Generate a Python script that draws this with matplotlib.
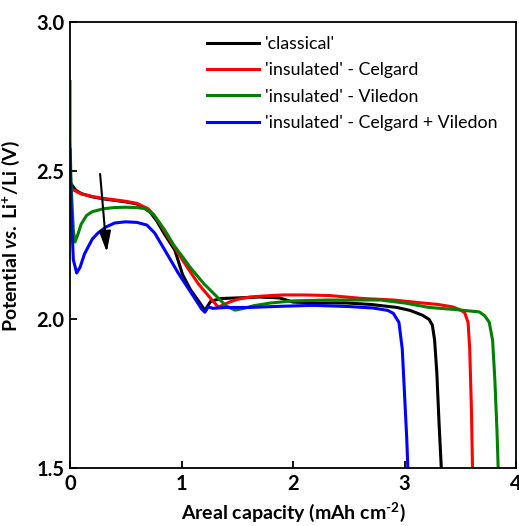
import numpy as np
import matplotlib
matplotlib.use('Agg')
import matplotlib.pyplot as plt

plt.rcParams['font.family'] = ['Lato', 'DejaVu Sans']
plt.rcParams['mathtext.fontset'] = 'custom'
plt.rcParams['mathtext.rm'] = 'Lato:bold'
plt.rcParams['mathtext.bf'] = 'Lato:bold'
plt.rcParams['mathtext.it'] = 'Lato:bold:italic'

# discharge curves
cap_classical = [0, 0.02, 0.05, 0.1, 0.2, 0.3, 0.4, 0.5, 0.6, 0.65, 0.72, 0.78, 0.85, 0.94, 1.01, 1.08, 1.165, 1.21, 1.26, 1.35, 1.5, 1.7, 1.88, 2.0, 2.2, 2.48, 2.7, 2.93, 3.05, 3.16, 3.22, 3.25, 3.27, 3.29, 3.31, 3.33]
pot_classical = [2.462, 2.45, 2.435, 2.423, 2.412, 2.405, 2.40, 2.395, 2.388, 2.378, 2.36, 2.33, 2.285, 2.233, 2.15, 2.10, 2.055, 2.03, 2.06, 2.07, 2.072, 2.075, 2.072, 2.058, 2.055, 2.055, 2.05, 2.04, 2.03, 2.014, 2.0, 1.98, 1.93, 1.82, 1.65, 1.5]

cap_celgard = [0, 0.02, 0.1, 0.2, 0.3, 0.5, 0.6, 0.7, 0.75, 0.8, 0.9, 1.0, 1.05, 1.15, 1.25, 1.33, 1.43, 1.5, 1.61, 1.8, 1.91, 2.1, 2.33, 2.63, 2.9, 3.16, 3.3, 3.43, 3.5, 3.54, 3.57, 3.585, 3.6, 3.61]
pot_celgard = [2.45, 2.437, 2.422, 2.413, 2.407, 2.397, 2.39, 2.372, 2.352, 2.325, 2.265, 2.205, 2.176, 2.12, 2.075, 2.041, 2.058, 2.067, 2.075, 2.08, 2.082, 2.082, 2.08, 2.07, 2.065, 2.055, 2.05, 2.042, 2.032, 2.022, 1.99, 1.9, 1.7, 1.5]

cap_viledon = [0, 0.0, 0.01, 0.03, 0.045, 0.07, 0.1, 0.15, 0.2, 0.3, 0.4, 0.5, 0.6, 0.68, 0.75, 0.85, 0.93, 1.03, 1.075, 1.2, 1.32, 1.4, 1.48, 1.55, 1.65, 1.8, 2.0, 2.3, 2.78, 3.0, 3.22, 3.45, 3.67, 3.72, 3.76, 3.79, 3.81, 3.83, 3.84]
pot_viledon = [2.80, 2.60, 2.45, 2.30, 2.26, 2.285, 2.32, 2.35, 2.362, 2.372, 2.376, 2.377, 2.376, 2.372, 2.352, 2.30, 2.25, 2.20, 2.176, 2.12, 2.075, 2.045, 2.031, 2.036, 2.046, 2.055, 2.062, 2.065, 2.065, 2.055, 2.04, 2.033, 2.025, 2.012, 1.99, 1.93, 1.8, 1.62, 1.5]

cap_both = [0, 0.01, 0.03, 0.06, 0.09, 0.13, 0.2, 0.25, 0.32, 0.4, 0.5, 0.6, 0.69, 0.76, 0.85, 0.97, 1.05, 1.12, 1.18, 1.21, 1.24, 1.28, 1.4, 1.61, 1.9, 2.18, 2.5, 2.72, 2.85, 2.9, 2.95, 2.98, 3.0, 3.02, 3.03]
pot_both = [2.57, 2.38, 2.2, 2.156, 2.175, 2.22, 2.27, 2.29, 2.31, 2.324, 2.328, 2.326, 2.317, 2.29, 2.233, 2.156, 2.11, 2.07, 2.035, 2.024, 2.042, 2.037, 2.04, 2.04, 2.044, 2.047, 2.043, 2.038, 2.03, 2.02, 1.99, 1.9, 1.75, 1.6, 1.5]

labels = ["'classical'", "'insulated' - Celgard", "'insulated' - Viledon",
          "'insulated' - Celgard + Viledon"]
colors = ['black', 'red', 'green', 'blue']

fig = plt.figure(figsize=(5.19, 5.26), dpi=100)
ax = fig.add_axes([70 / 519, 58 / 526, 446 / 519, 446 / 526])

series = [(cap_classical, pot_classical), (cap_celgard, pot_celgard),
          (cap_viledon, pot_viledon), (cap_both, pot_both)]
for (x, y), c, lab in zip(series, colors, labels):
    ax.plot(x, y, color=c, lw=2.2, label=lab, solid_joinstyle='round')

# arrow: trend with insulation
ax.annotate('', xy=(0.33, 2.226), xytext=(0.27, 2.489),
            arrowprops=dict(arrowstyle='-|>,head_length=0.7,head_width=0.2',
                            color='black', lw=1.5, mutation_scale=18,
                            shrinkA=0, shrinkB=0))

ax.set_xlim(0, 4)
ax.set_ylim(1.5, 3.0)
ax.set_xticks([0, 1, 2, 3, 4])
ax.set_yticks([1.5, 2.0, 2.5, 3.0])
ax.set_yticklabels(['1.5', '2.0', '2.5', '3.0'])
ax.tick_params(direction='in', length=5, width=1.3, labelsize=14.5, pad=4,
               top=False, right=False)
for lab in ax.get_xticklabels() + ax.get_yticklabels():
    lab.set_fontweight('bold')
for s in ax.spines.values():
    s.set_linewidth(1.3)

ax.set_xlabel(r'Areal capacity (mAh cm$^{\text{-2}}$)', fontsize=14,
              fontweight='bold', labelpad=5)
ax.set_ylabel(r'Potential $\mathit{vs.}$ Li$^{+}$/Li (V)', fontsize=14,
              fontweight='bold', labelpad=5)
ax.yaxis.set_label_coords(-48 / 446, 0.52)

ax.legend(loc='upper left', bbox_to_anchor=(137 / 446, 1 - 14 / 446),
          frameon=False, fontsize=12.8, handlelength=2.9, handletextpad=0.35,
          labelspacing=0.58, borderpad=0, borderaxespad=0)

fig.savefig('out.png', dpi=100)
